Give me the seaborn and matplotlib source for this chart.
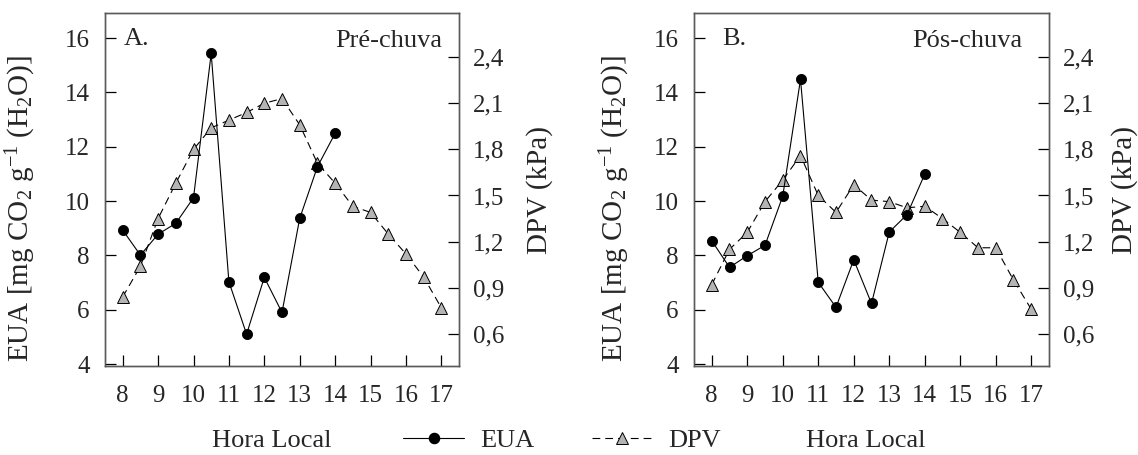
import matplotlib
matplotlib.use("Agg")
import matplotlib.pyplot as plt
from matplotlib.lines import Line2D
import numpy as np
import pandas as pd
import seaborn as sns

# Hours of the day
hours_eua = [8, 8.5, 9, 9.5, 10, 10.5, 11, 11.5, 12, 12.5, 13, 13.5, 14]
hours_dpv = [8, 8.5, 9, 9.5, 10, 10.5, 11, 11.5, 12, 12.5, 13, 13.5, 14,
             14.5, 15, 15.5, 16, 16.5, 17]

# Water use efficiency (EUA) and vapour pressure deficit (DPV)
eua_pre = [8.93, 8.01, 8.78, 9.18, 10.12, 15.43, 7.03, 5.10, 7.19, 5.90,
           9.36, 11.26, 12.49]
dpv_pre = [0.84, 1.04, 1.35, 1.58, 1.80, 1.94, 1.99, 2.04, 2.10, 2.13,
           1.96, 1.71, 1.58, 1.43, 1.39, 1.25, 1.12, 0.97, 0.77]
eua_pos = [8.54, 7.56, 7.99, 8.37, 10.18, 14.48, 7.01, 6.09, 7.84, 6.23,
           8.86, 9.50, 10.99]
dpv_pos = [0.92, 1.15, 1.26, 1.46, 1.60, 1.76, 1.50, 1.39, 1.57, 1.47,
           1.46, 1.42, 1.43, 1.35, 1.26, 1.16, 1.16, 0.95, 0.76]

panel_letters = ["A.", "B."]
periods = ["Pré-chuva", "Pós-chuva"]
xticks = [8, 9, 10, 11, 12, 13, 14, 15, 16, 17]
yticks_left = [4, 6, 8, 10, 12, 14, 16]
yticks_right = [0.6, 0.9, 1.2, 1.5, 1.8, 2.1, 2.4]

sns.set_style("ticks")
plt.rcParams["font.family"] = ["Liberation Serif", "DejaVu Serif"]
plt.rcParams["mathtext.fontset"] = "custom"
plt.rcParams["mathtext.rm"] = "Liberation Serif"
plt.rcParams["mathtext.default"] = "regular"

FS = 19
YLAB_FS = 21
TICK_FS = 18
SPINE = "#5a5a5a"
TRI_FACE = "#b4b4b4"
DASH = (0, (7, 4.5))

fig = plt.figure(figsize=(11.38, 4.55), dpi=100)
W, H = 1138, 455
axes_px = [(105, 13, 354, 353), (694, 13, 355, 353)]

data_sets = [(eua_pre, dpv_pre), (eua_pos, dpv_pos)]
ylab_left_x = [-0.19, -0.175]
ylab_right_x = [1.19, 1.176]
xlab_x = [0.472, 0.483]
letter_x = [0.054, 0.079]
period_right = [0.952, 0.925]

for i, (left, top, w, h) in enumerate(axes_px):
    ax = fig.add_axes([left / W, 1 - (top + h) / H, w / W, h / H])
    ax2 = ax.twinx()
    eua, dpv = data_sets[i]

    sns.lineplot(x=hours_dpv, y=dpv, ax=ax2, color="black", lw=0.8,
                 linestyle=DASH, marker="^", markersize=8.5,
                 markerfacecolor=TRI_FACE, markeredgecolor="black",
                 markeredgewidth=0.7, errorbar=None, zorder=2)
    sns.lineplot(x=hours_eua, y=eua, ax=ax, color="black", lw=0.8,
                 marker="o", markersize=7.3, markerfacecolor="black",
                 markeredgecolor="black", markeredgewidth=0.6,
                 errorbar=None, zorder=3)
    # draw the EUA axis above the twin so circles sit on top
    ax.set_zorder(ax2.get_zorder() + 1)
    ax.patch.set_visible(False)

    ax.set_xlim(7.5, 17.5)
    ax.set_ylim(3.93, 16.92)
    ax2.set_ylim(0.391, 2.687)
    ax.set_xticks(xticks)
    ax.set_xticklabels([str(t) for t in xticks])
    ax.set_yticks(yticks_left)
    ax2.set_yticks(yticks_right)
    ax2.set_yticklabels([f"{v:.1f}".replace(".", ",") for v in yticks_right])

    for a in (ax, ax2):
        for sp in a.spines.values():
            sp.set_color(SPINE)
            sp.set_linewidth(1.0)
            sp.set_visible(True)
    ax.tick_params(axis="both", direction="in", length=8, width=0.9,
                   color="black", labelsize=TICK_FS, pad=11,
                   top=False, right=False)
    ax.tick_params(axis="x", pad=14)
    ax2.tick_params(axis="y", direction="in", length=8, width=0.9,
                    color="black", labelsize=TICK_FS, pad=10)

    ax.set_xlabel("Hora Local", fontsize=FS)
    ax.xaxis.set_label_coords(xlab_x[i], -0.182)
    ax.set_ylabel("EUA [mg CO$_2$ g$^{-1}$ (H$_2$O)]", fontsize=YLAB_FS)
    ax.yaxis.set_label_coords(ylab_left_x[i], 0.445)
    ax2.set_ylabel("DPV (kPa)", fontsize=YLAB_FS)
    ax2.yaxis.set_label_coords(ylab_right_x[i], 0.5)

    ax.text(letter_x[i], 0.925, panel_letters[i], transform=ax.transAxes,
            fontsize=FS, ha="left", va="center")
    ax.text(period_right[i], 0.92, periods[i], transform=ax.transAxes,
            fontsize=FS, ha="right", va="center")

handles = [
    Line2D([], [], color="black", lw=0.8, marker="o", markersize=7.3,
           markerfacecolor="black", markeredgecolor="black"),
    Line2D([], [], color="black", lw=0.8, linestyle=DASH, marker="^",
           markersize=8.5, markerfacecolor=TRI_FACE, markeredgecolor="black",
           markeredgewidth=0.7),
]
fig.legend(handles, ["EUA", "DPV"], loc="center", bbox_to_anchor=(0.494, 0.032),
           ncol=2, frameon=False, fontsize=FS, handlelength=2.3,
           handletextpad=0.6, columnspacing=2.2, borderpad=0.1)

fig.savefig("out.png", dpi=100, facecolor="white")
